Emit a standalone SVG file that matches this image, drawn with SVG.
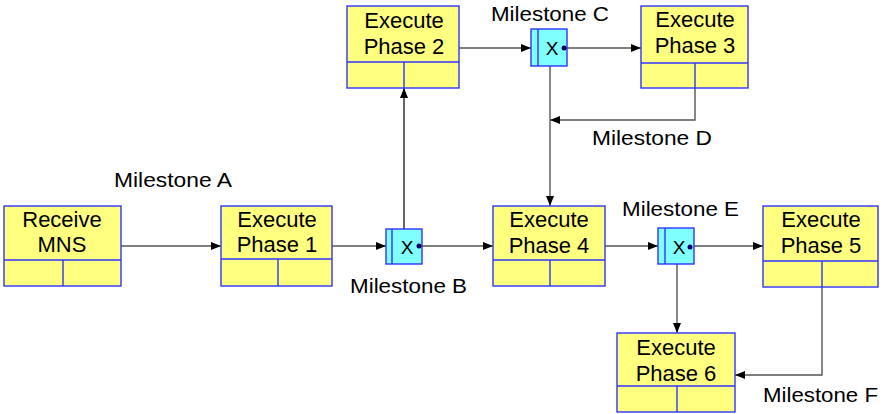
<svg xmlns="http://www.w3.org/2000/svg" width="884" height="414" viewBox="0 0 884 414">
<defs>
<marker id="ar" viewBox="0 0 10 8" refX="10" refY="4" markerWidth="10" markerHeight="8" markerUnits="userSpaceOnUse" orient="auto">
<path d="M0,0 L10,4 L0,8 Z" fill="#000"/>
</marker>
<style>
.box{fill:#ffff80;stroke:#3333ff;stroke-width:1.4}
.div{stroke:#3333ff;stroke-width:1.4;fill:none}
.jn{fill:#80ffff;stroke:#3333ff;stroke-width:1.4}
.t{font-family:"Liberation Sans",Arial,sans-serif;font-size:22px;fill:#000;text-anchor:middle}
.m{font-family:"Liberation Sans",Arial,sans-serif;font-size:21px;fill:#000}
.x{font-family:"Liberation Sans",Arial,sans-serif;font-size:19px;fill:#000;text-anchor:middle}
.c{stroke:#000;stroke-width:1.2;fill:none;marker-end:url(#ar)}
.g{stroke:#555;stroke-width:1.4;fill:none;marker-end:url(#ar)}
</style>
</defs>
<rect width="884" height="414" fill="#fff"/>
<g id="connectors">
<line class="c" x1="121" y1="246" x2="221" y2="246"/>
<line class="c" x1="332" y1="246" x2="386" y2="246"/>
<line class="c" x1="422" y1="246" x2="493" y2="246"/>
<line class="c" x1="404" y1="229" x2="404" y2="88"/>
<line class="c" x1="459" y1="48" x2="531" y2="48"/>
<line class="c" x1="567" y1="48" x2="641" y2="48"/>
<line class="g" x1="550" y1="66" x2="550" y2="206"/>
<polyline class="g" points="695,88 695,120 550,120"/>
<line class="c" x1="605" y1="246" x2="658" y2="246"/>
<line class="c" x1="694" y1="246" x2="763" y2="246"/>
<line class="g" x1="677" y1="264" x2="677" y2="333"/>
<polyline class="g" points="822,287 822,375 735,375"/>
</g>
<g id="receive-mns">
<rect class="box" x="4" y="206" width="117" height="80"/>
<path class="div" d="M4,260 H121 M63,260 V286"/>
<text class="t" x="62" y="227">Receive</text>
<text class="t" x="62" y="252">MNS</text>
</g>
<g id="phase1">
<rect class="box" x="221" y="206" width="111" height="80"/>
<path class="div" d="M221,259 H332 M278,259 V286"/>
<text class="t" x="277" y="227">Execute</text>
<text class="t" x="277" y="252">Phase 1</text>
</g>
<g id="phase2">
<rect class="box" x="347" y="6" width="112" height="82"/>
<path class="div" d="M347,62 H459 M404,62 V88"/>
<text class="t" x="404" y="28">Execute</text>
<text class="t" x="404" y="54">Phase 2</text>
</g>
<g id="phase3">
<rect class="box" x="641" y="6" width="107" height="82"/>
<path class="div" d="M641,63 H748 M695,63 V88"/>
<text class="t" x="695" y="27">Execute</text>
<text class="t" x="695" y="53">Phase 3</text>
</g>
<g id="phase4">
<rect class="box" x="493" y="206" width="112" height="80"/>
<path class="div" d="M493,260 H605 M550,260 V286"/>
<text class="t" x="549" y="227">Execute</text>
<text class="t" x="549" y="253">Phase 4</text>
</g>
<g id="phase5">
<rect class="box" x="763" y="206" width="115" height="81"/>
<path class="div" d="M763,261 H878 M822,261 V287"/>
<text class="t" x="821" y="227">Execute</text>
<text class="t" x="821" y="253">Phase 5</text>
</g>
<g id="phase6">
<rect class="box" x="617" y="333" width="118" height="79"/>
<path class="div" d="M617,386 H735 M677,386 V412"/>
<text class="t" x="676" y="355">Execute</text>
<text class="t" x="676" y="381">Phase 6</text>
</g>
<g id="milestone-b">
<rect class="jn" x="386" y="229" width="36" height="35"/>
<path class="div" d="M392,229 V264"/>
<text class="x" x="407" y="254">X</text>
<circle cx="419" cy="246" r="2.5" fill="#000066"/>
</g>
<g id="milestone-c">
<rect class="jn" x="531" y="29" width="36" height="37"/>
<path class="div" d="M538,29 V66"/>
<text class="x" x="552" y="55">X</text>
<circle cx="564" cy="48" r="2.5" fill="#000066"/>
</g>
<g id="milestone-e">
<rect class="jn" x="658" y="228" width="36" height="36"/>
<path class="div" d="M665,228 V264"/>
<text class="x" x="679" y="254">X</text>
<circle cx="690" cy="247" r="2.5" fill="#000066"/>
</g>
<g id="labels">
<text class="m" x="114" y="187" textLength="118" lengthAdjust="spacingAndGlyphs">Milestone A</text>
<text class="m" x="350" y="293" textLength="117" lengthAdjust="spacingAndGlyphs">Milestone B</text>
<text class="m" x="491" y="21" textLength="118" lengthAdjust="spacingAndGlyphs">Milestone C</text>
<text class="m" x="592" y="145" textLength="120" lengthAdjust="spacingAndGlyphs">Milestone D</text>
<text class="m" x="622" y="216" textLength="117" lengthAdjust="spacingAndGlyphs">Milestone E</text>
<text class="m" x="763" y="402" textLength="115" lengthAdjust="spacingAndGlyphs">Milestone F</text>
</g>
</svg>
